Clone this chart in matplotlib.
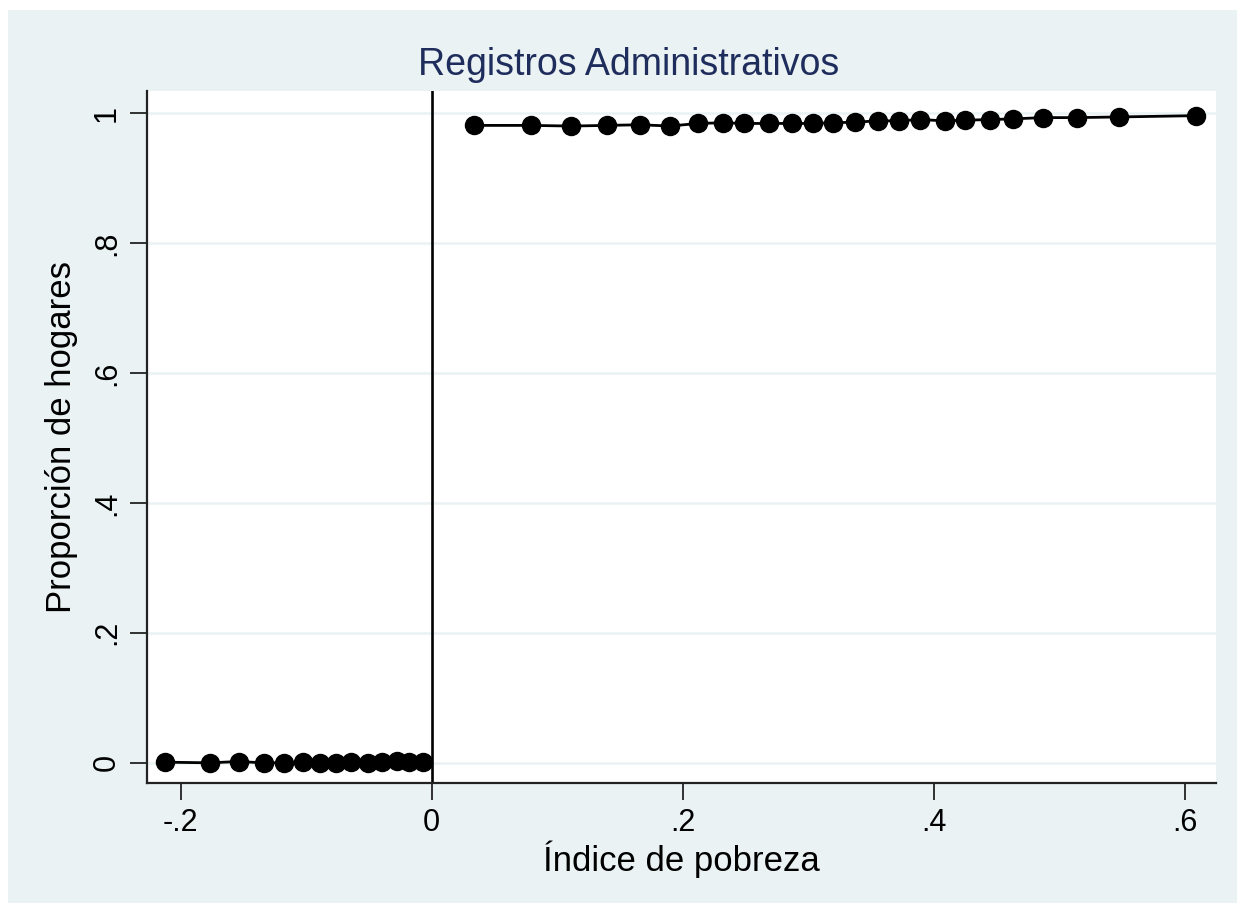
import matplotlib.pyplot as plt
from matplotlib.patches import Rectangle

plt.rcParams['font.family'] = ['Liberation Sans', 'DejaVu Sans']

bg = '#eaf2f3'

# values
x_left = [-0.2125, -0.177, -0.154, -0.134, -0.118, -0.103, -0.089, -0.076,
          -0.064, -0.051, -0.040, -0.028, -0.018, -0.007]
y_left = [0.001, 0.000, 0.002, 0.000, 0.000, 0.001, 0.000, 0.000,
          0.001, 0.000, 0.001, 0.003, 0.001, 0.002]

x_right = [0.034, 0.079, 0.111, 0.140, 0.166, 0.190, 0.212, 0.232, 0.249,
           0.269, 0.287, 0.304, 0.320, 0.337, 0.356, 0.372, 0.389, 0.409,
           0.425, 0.445, 0.463, 0.487, 0.514, 0.548, 0.609]
y_right = [0.981, 0.981, 0.980, 0.981, 0.982, 0.980, 0.984, 0.985, 0.984,
           0.984, 0.984, 0.984, 0.985, 0.986, 0.988, 0.988, 0.990, 0.988,
           0.989, 0.990, 0.991, 0.993, 0.993, 0.994, 0.996]

xticks = [-0.2, 0, 0.2, 0.4, 0.6]
xtick_labels = ['-.2', '0', '.2', '.4', '.6']
yticks = [0, 0.2, 0.4, 0.6, 0.8, 1]
ytick_labels = ['0', '.2', '.4', '.6', '.8', '1']

fig = plt.figure(figsize=(12.37, 9.06), dpi=100, facecolor='white')
fig.patches.append(Rectangle((8 / 1237, 0.003), 1, 1 - 10 / 906 - 0.003,
                             transform=fig.transFigure, facecolor=bg,
                             edgecolor='none', zorder=-10))

ax = fig.add_axes([0.1188, 0.1358, 0.8642, 0.7638])
ax.set_facecolor('white')

for y in yticks:
    ax.axhline(y, color=bg, lw=1.8, zorder=1)

ax.axvline(0, color='black', lw=1.9, zorder=2)

ax.plot(x_left, y_left, color='black', lw=2, marker='o', ms=13, zorder=3)
ax.plot(x_right, y_right, color='black', lw=2, marker='o', ms=13, zorder=3)

ax.set_xlim(-0.227, 0.625)
ax.set_ylim(-0.031, 1.034)

ax.set_xticks(xticks)
ax.set_xticklabels(xtick_labels, fontsize=22)
ax.set_yticks(yticks)
ax.set_yticklabels(ytick_labels, fontsize=22, rotation=90, va='center')
ax.tick_params(direction='out', length=12, width=1.3, color='#222222', pad=6)

for s in ['top', 'right']:
    ax.spines[s].set_visible(False)
for s in ['left', 'bottom']:
    ax.spines[s].set_linewidth(1.6)
    ax.spines[s].set_color('#222222')

ax.set_xlabel('Índice de pobreza', fontsize=25, labelpad=2)
ax.set_ylabel('Proporción de hogares', fontsize=25, labelpad=10)
fig.text(0.508, 0.928, 'Registros Administrativos', fontsize=27,
         color='#1e2d5c', ha='center', va='center')

fig.savefig('out.png', dpi=100, facecolor='white')
